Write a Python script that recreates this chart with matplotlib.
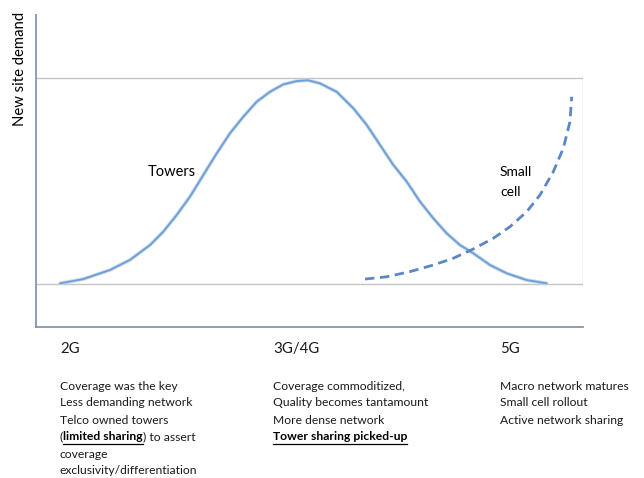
#!/usr/bin/env python

# import modules
import matplotlib.pyplot as plt
import matplotlib.lines as mlines

# figure size in pixels
W, H = 644, 478

# towers curve (x: 0..10 across plot, y: 0 = low line, 1 = top line)
towers_x = [0.439, 0.865, 1.353, 1.718, 2.084, 2.327, 2.572, 2.815, 3.059, 3.303, 3.547,
            3.790, 4.035, 4.278, 4.521, 4.766, 4.973, 5.192, 5.497, 5.801, 6.046, 6.289,
            6.532, 6.777, 7.020, 7.263, 7.508, 7.751, 7.995, 8.300, 8.605, 8.971, 9.336]
towers_y = [0.003, 0.024, 0.068, 0.117, 0.189, 0.254, 0.335, 0.424, 0.529, 0.634, 0.732,
            0.812, 0.885, 0.933, 0.969, 0.985, 0.989, 0.974, 0.933, 0.853, 0.772, 0.675,
            0.578, 0.497, 0.400, 0.319, 0.246, 0.189, 0.149, 0.092, 0.052, 0.019, 0.003]

# small cell curve
small_x = [6.015, 6.411, 6.837, 7.263, 7.629, 7.995, 8.360, 8.665, 8.971, 9.214,
           9.457, 9.640, 9.762, 9.793]
small_y = [0.024, 0.035, 0.060, 0.092, 0.125, 0.170, 0.222, 0.278, 0.351, 0.432,
           0.545, 0.659, 0.788, 0.909]

# labels
y_title = "New site demand"
gen_labels = ["2G", "3G/4G", "5G"]
col1 = ["Coverage was the key", "Less demanding network", "Telco owned towers"]
col1_tail = ["coverage", "exclusivity/differentiation"]
col2 = ["Coverage commoditized,", "Quality becomes tantamount", "More dense network"]
col2_bold = "Tower sharing picked-up"
col3 = ["Macro network matures", "Small cell rollout", "Active network sharing"]

plt.rcParams['font.family'] = ['Lato', 'DejaVu Sans']

fig = plt.figure(figsize=(W / 100, H / 100), dpi=100)

# axes placed from pixel measurements
left, right, top, bottom = 36, 583, 15, 327
ax = fig.add_axes([left / W, 1 - bottom / H, (right - left) / W, (bottom - top) / H])
ax.set_xlim(0, 10)
ax.set_ylim(-(bottom - 284) / 206, (284 - top) / 206)
for s in ['top', 'right']:
    ax.spines[s].set_visible(False)
for s in ['left', 'bottom']:
    ax.spines[s].set_color('#8596b0')
    ax.spines[s].set_linewidth(1.3)
ax.set_xticks([])
ax.set_yticks([])

# gray box
ax.plot([0, 10], [0, 0], color='#c4c4c4', lw=1)
ax.plot([0, 10], [1, 1], color='#c4c4c4', lw=1)
ax.plot([10, 10], [0, 1], color='#c4c4c4', lw=1)

# curves
ax.plot(towers_x, towers_y, color='#c3d7ee', lw=2.6, solid_capstyle='round', solid_joinstyle='round')
ax.plot(towers_x, towers_y, color='#6f9ed3', lw=1.3, solid_capstyle='round', solid_joinstyle='round')
ax.plot(small_x, small_y, color='#5b87c5', lw=2, linestyle=(0, (3.4, 2.0)))


def px(x, y):
    return x / W, 1 - y / H


txt_color = '#1a1a1a'
fs = 8.7

fig.text(*px(20, 12), y_title, rotation=90, ha='center', va='top', fontsize=10.7, color='black')
fig.text(*px(148, 172), "Towers", ha='left', va='center', fontsize=10.5, color='black')
fig.text(*px(500, 172), "Small", ha='left', va='center', fontsize=10, color='black')
fig.text(*px(500, 192), "cell", ha='left', va='center', fontsize=10, color='black')

col_x = [60, 273, 500]
for cx, g in zip(col_x, gen_labels):
    fig.text(*px(cx, 349), g, ha='left', va='center', fontsize=10.8, color=txt_color)

line_y = [386, 403, 420, 437, 454, 471]
for i, t in enumerate(col1):
    fig.text(*px(60, line_y[i]), t, ha='left', va='center', fontsize=fs, color=txt_color)
for i, t in enumerate(col2):
    fig.text(*px(273, line_y[i]), t, ha='left', va='center', fontsize=fs, color=txt_color)
for i, t in enumerate(col3):
    fig.text(*px(500, line_y[i]), t, ha='left', va='center', fontsize=fs, color=txt_color)
for i, t in enumerate(col1_tail):
    fig.text(*px(60, line_y[4 + i]), t, ha='left', va='center', fontsize=fs, color=txt_color)

renderer = fig.canvas.get_renderer()


def underline(t):
    bb = t.get_window_extent(renderer)
    yy = bb.y0 - 1
    fig.add_artist(mlines.Line2D([bb.x0 / W, bb.x1 / W], [yy / H, yy / H], color='black', lw=0.9))


# mixed line: (limited sharing) to assert
t1 = fig.text(*px(60, line_y[3]), "(", ha='left', va='center', fontsize=fs, color=txt_color)
x1 = t1.get_window_extent(renderer).x1
t2 = fig.text(x1 / W, 1 - line_y[3] / H, "limited sharing", ha='left', va='center',
              fontsize=fs, color='black', fontweight='bold')
x2 = t2.get_window_extent(renderer).x1
fig.text(x2 / W, 1 - line_y[3] / H, ") to assert", ha='left', va='center', fontsize=fs, color=txt_color)
underline(t2)

t3 = fig.text(*px(273, line_y[3]), col2_bold, ha='left', va='center', fontsize=fs,
              color='black', fontweight='bold')
underline(t3)

plt.savefig('out.png', dpi=100)
